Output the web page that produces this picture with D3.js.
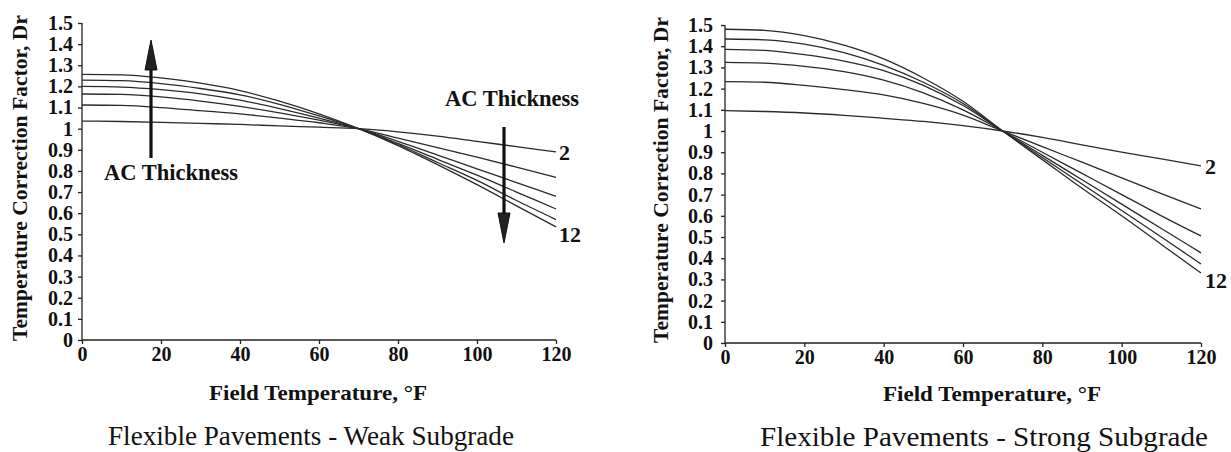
<!DOCTYPE html>
<html>
<head>
<meta charset="utf-8">
<script src="https://cdn.jsdelivr.net/npm/d3@7"></script>
<style>
  body { margin: 0; background: #fff; }
  svg text { font-family: "Liberation Serif", "Times New Roman", serif; fill: #111; }
  .axis path, .axis line { stroke: #222; stroke-width: 1.3; }
</style>
</head>
<body>
<svg id="chart" width="1231" height="452"></svg>
<script>
// field temperature, degrees F
var temps = [0, 10, 20, 30, 40, 50, 60, 70, 80, 90, 100, 110, 120];
var thickness = [2, 4, 6, 8, 10, 12];
var xTicks = [0, 20, 40, 60, 80, 100, 120];
var yTicks = [0, 0.1, 0.2, 0.3, 0.4, 0.5, 0.6, 0.7, 0.8, 0.9, 1, 1.1, 1.2, 1.3, 1.4, 1.5];

// weak subgrade, one array per AC thickness
var weak2  = [1.036, 1.034, 1.03, 1.025, 1.02, 1.013, 1.007, 1.0, 0.985, 0.965, 0.94, 0.915, 0.89];
var weak4  = [1.112, 1.11, 1.10, 1.085, 1.07, 1.05, 1.028, 1.0, 0.955, 0.91, 0.865, 0.818, 0.77];
var weak6  = [1.164, 1.162, 1.15, 1.13, 1.105, 1.075, 1.04, 1.0, 0.94, 0.875, 0.81, 0.745, 0.68];
var weak8  = [1.20, 1.197, 1.185, 1.165, 1.135, 1.095, 1.05, 1.0, 0.93, 0.855, 0.78, 0.70, 0.62];
var weak10 = [1.23, 1.227, 1.213, 1.19, 1.16, 1.115, 1.06, 1.0, 0.925, 0.84, 0.755, 0.66, 0.57];
var weak12 = [1.257, 1.255, 1.24, 1.215, 1.18, 1.13, 1.07, 1.0, 0.92, 0.83, 0.735, 0.635, 0.535];

// strong subgrade
var strong2  = [1.096, 1.092, 1.085, 1.074, 1.06, 1.045, 1.025, 1.0, 0.97, 0.935, 0.90, 0.868, 0.835];
var strong4  = [1.233, 1.23, 1.215, 1.195, 1.17, 1.13, 1.075, 1.0, 0.926, 0.853, 0.779, 0.705, 0.632];
var strong6  = [1.324, 1.32, 1.305, 1.28, 1.24, 1.18, 1.10, 1.0, 0.90, 0.80, 0.70, 0.60, 0.505];
var strong8  = [1.385, 1.38, 1.36, 1.33, 1.285, 1.215, 1.12, 1.0, 0.885, 0.77, 0.655, 0.54, 0.425];
var strong10 = [1.434, 1.43, 1.41, 1.37, 1.31, 1.23, 1.13, 1.0, 0.875, 0.75, 0.625, 0.50, 0.373];
var strong12 = [1.48, 1.475, 1.45, 1.405, 1.34, 1.25, 1.14, 1.0, 0.865, 0.73, 0.60, 0.465, 0.33];

var svg = d3.select("#chart");

function drawPanel(cfg) {
  var x = d3.scaleLinear().domain([0, 120]).range([cfg.x0, cfg.x1]);
  var y = d3.scaleLinear().domain([0, 1.5]).range([cfg.y0, cfg.y1]);
  var g = svg.append("g");

  // axes
  var xa = g.append("g")
    .attr("class", "axis")
    .attr("transform", "translate(0," + cfg.y0 + ")")
    .call(d3.axisBottom(x).tickValues(xTicks).tickSize(4).tickPadding(3).tickFormat(d3.format("d")));
  xa.select(".domain").attr("d", "M" + cfg.x0 + ",0H" + cfg.x1);
  xa.selectAll("text")
    .style("font-family", "'Liberation Serif', serif")
    .style("font-size", "20px").style("font-weight", "bold");

  var ya = g.append("g")
    .attr("class", "axis")
    .attr("transform", "translate(" + cfg.x0 + ",0)")
    .call(d3.axisLeft(y).tickValues(yTicks).tickSize(4).tickPadding(cfg.yPad)
      .tickFormat(function(d) { return d === 0 ? "0" : d === 1 ? "1" : d3.format(".1f")(d); }));
  ya.select(".domain").attr("d", "M0," + cfg.y0 + "V" + cfg.y1);
  ya.selectAll("text")
    .style("font-family", "'Liberation Serif', serif")
    .style("font-size", "20px").style("font-weight", "bold");

  // curves
  var line = d3.line()
    .x(function(d, i) { return x(temps[i]); })
    .y(function(d) { return y(d); })
    .curve(d3.curveMonotoneX);

  g.selectAll(".curve")
    .data(cfg.series)
    .enter().append("path")
    .attr("class", "curve")
    .attr("d", line)
    .attr("fill", "none")
    .attr("stroke", "#2a2a2a")
    .attr("stroke-width", 1.3);

  // end labels 2 and 12
  var last = temps.length - 1;
  g.append("text")
    .attr("x", x(120) + cfg.lblDx)
    .attr("y", y(cfg.series[0][last]) + 8)
    .style("font-size", "22px").style("font-weight", "bold")
    .text(thickness[0]);
  g.append("text")
    .attr("x", x(120) + cfg.lblDx)
    .attr("y", y(cfg.series[5][last]) + 15)
    .style("font-size", "22px").style("font-weight", "bold")
    .text(thickness[5]);

  // axis titles
  g.append("text")
    .attr("transform", "translate(" + cfg.ytX + "," + cfg.ytY + ") rotate(-90)")
    .attr("text-anchor", "middle")
    .attr("textLength", 326).attr("lengthAdjust", "spacingAndGlyphs")
    .style("font-size", "21px").style("font-weight", "bold")
    .text("Temperature Correction Factor, Dr");

  g.append("text")
    .attr("x", cfg.xtX).attr("y", cfg.xtY)
    .attr("text-anchor", "middle")
    .attr("textLength", 218).attr("lengthAdjust", "spacingAndGlyphs")
    .style("font-size", "22px").style("font-weight", "bold")
    .text("Field Temperature, °F");

  g.append("text")
    .attr("x", cfg.tX).attr("y", cfg.tY)
    .attr("text-anchor", "middle")
    .attr("textLength", cfg.tLen).attr("lengthAdjust", "spacingAndGlyphs")
    .style("font-size", "28px")
    .text(cfg.title);

  return { x: x, y: y, g: g };
}

function arrow(g, xPos, yFrom, yTo) {
  var dir = yTo < yFrom ? -1 : 1;
  var headLen = 30;
  g.append("line")
    .attr("x1", xPos).attr("x2", xPos)
    .attr("y1", yFrom).attr("y2", yTo - dir * headLen + dir * 2)
    .attr("stroke", "#111").attr("stroke-width", 3.2);
  g.append("path")
    .attr("d", "M" + xPos + "," + yTo +
      "L" + (xPos - 6) + "," + (yTo - dir * headLen) +
      "L" + (xPos + 6) + "," + (yTo - dir * headLen) + "Z")
    .attr("fill", "#222").attr("stroke", "#111").attr("stroke-width", 1);
}

var left = drawPanel({
  x0: 82, x1: 556, y0: 340, y1: 23, yPad: 5,
  series: [weak2, weak4, weak6, weak8, weak10, weak12],
  lblDx: 3, ytX: 27, ytY: 178, xtX: 318, xtY: 400,
  tX: 311, tY: 445, tLen: 406,
  title: "Flexible Pavements - Weak Subgrade"
});

var right = drawPanel({
  x0: 725, x1: 1201, y0: 343, y1: 25, yPad: 8,
  series: [strong2, strong4, strong6, strong8, strong10, strong12],
  lblDx: 4, ytX: 668, ytY: 180, xtX: 992, xtY: 401,
  tX: 984, tY: 446, tLen: 448,
  title: "Flexible Pavements - Strong Subgrade"
});

// AC thickness annotations on the weak subgrade panel
arrow(left.g, 151, 158, 40);
left.g.append("text")
  .attr("x", 171).attr("y", 180)
  .attr("text-anchor", "middle")
  .attr("textLength", 134).attr("lengthAdjust", "spacingAndGlyphs")
  .style("font-size", "23px").style("font-weight", "bold")
  .text("AC Thickness");

arrow(left.g, 504, 127, 243);
left.g.append("text")
  .attr("x", 512).attr("y", 106)
  .attr("text-anchor", "middle")
  .attr("textLength", 134).attr("lengthAdjust", "spacingAndGlyphs")
  .style("font-size", "23px").style("font-weight", "bold")
  .text("AC Thickness");
</script>
</body>
</html>
